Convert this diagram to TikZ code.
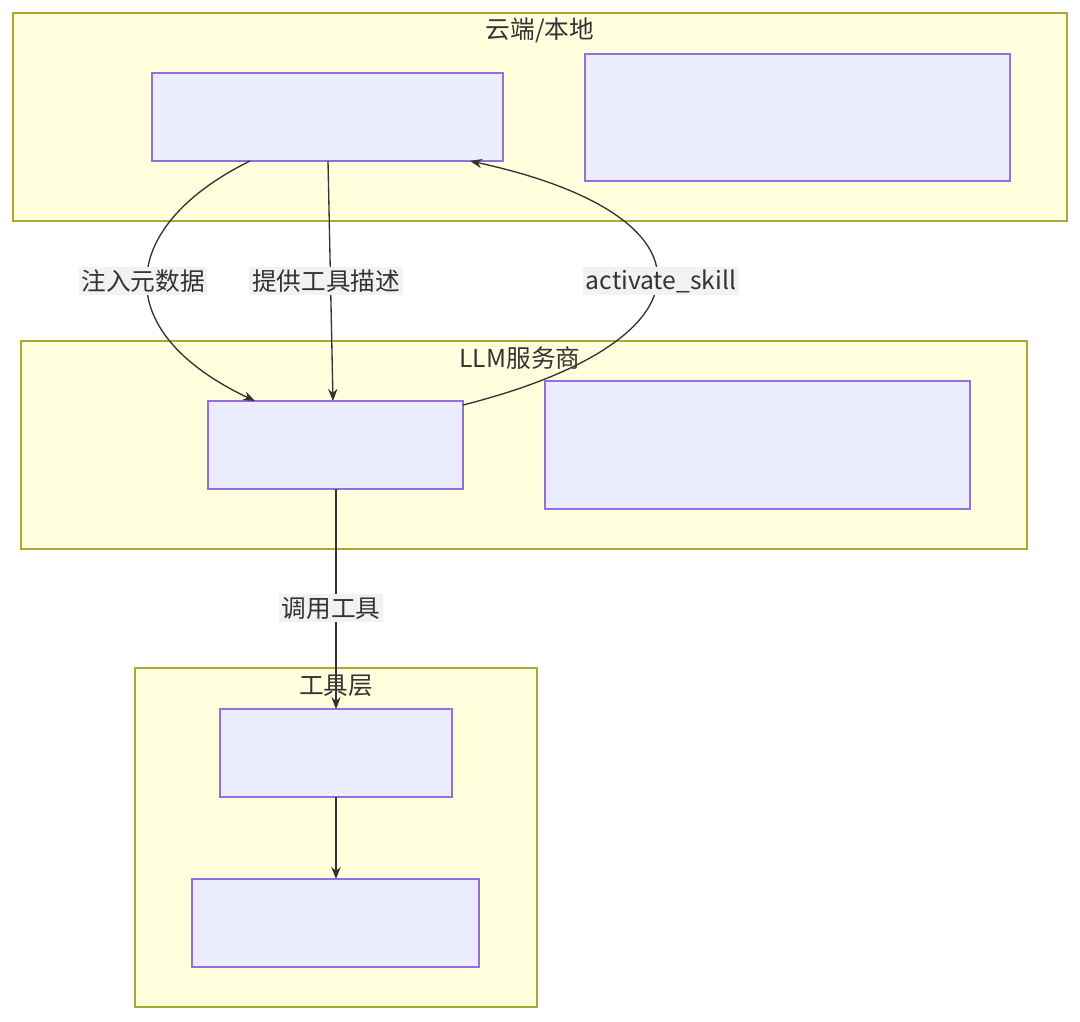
\documentclass[tikz,border=0pt]{standalone}
\usepackage{fontspec}
\setmainfont{Noto Sans CJK SC}
\usetikzlibrary{arrows.meta}
\definecolor{clf}{HTML}{FFFFDE}
\definecolor{cls}{HTML}{AAAA33}
\definecolor{ndf}{HTML}{ECECFF}
\definecolor{nds}{HTML}{9370DB}
\definecolor{lbg}{HTML}{F2F2F2}
\definecolor{txt}{HTML}{333333}
\begin{document}
\begin{tikzpicture}[x=0.75pt,y=-0.75pt,
  cluster/.style={draw=cls,fill=clf,line width=0.9pt},
  box/.style={draw=nds,fill=ndf,line width=0.9pt},
  ttl/.style={text=txt,font=\fontsize{18.5}{20}\selectfont,inner sep=1pt},
  elab/.style={fill=lbg,text=txt,font=\fontsize{18.5}{20}\selectfont,inner sep=2pt},
  edge/.style={draw=txt,line width=1pt,-{Stealth[length=9pt,width=7pt]}}]
\useasboundingbox (0,0) rectangle (1080,1021);
\fill[white] (0,0) rectangle (1080,1021);
\draw[cluster] (13,13) rectangle (1067,221);
\node[ttl] (t1) at (540,30) {云端/本地};
\draw[cluster] (21,341) rectangle (1027,549);
\node[ttl] (t2) at (520,358) {LLM服务商};
\draw[cluster] (135,668) rectangle (537,1007);
\node[ttl] (t3) at (336,686) {工具层};
\draw[box] (152,73) rectangle (503,161); \coordinate (A) at (327,117);
\draw[box] (585,54) rectangle (1010,181);
\draw[box] (208,401) rectangle (463,489); \coordinate (C) at (335,445);
\draw[box] (545,381) rectangle (970,509);
\draw[box] (220,709) rectangle (452,797); \coordinate (E) at (336,753);
\draw[box] (192,879) rectangle (479,967); \coordinate (F) at (336,923);
\coordinate (a1) at (250,161); \coordinate (c1) at (255,401);
\coordinate (a2) at (328,161); \coordinate (c2) at (333,401);
\coordinate (c3) at (463,405); \coordinate (a3) at (470,161);
\coordinate (c4) at (336,489); \coordinate (e1) at (336,709);
\coordinate (e2) at (336,797); \coordinate (f1) at (336,879);
\draw[edge] (a1) .. controls (120,225) and (105,330) .. (c1);
\draw[edge] (a2) -- (c2);
\draw[edge] (c3) .. controls (720,340) and (720,215) .. (a3);
\draw[edge] (c4) -- (e1);
\draw[edge] (e2) -- (f1);
\node[elab] (l1) at (143,281) {注入元数据};
\node[elab] (l2) at (326,281) {提供工具描述};
\node[elab] (l3) at (661,281) {activate\_skill};
\node[elab] (l4) at (331,608) {调用工具};
\end{tikzpicture}
\end{document}
